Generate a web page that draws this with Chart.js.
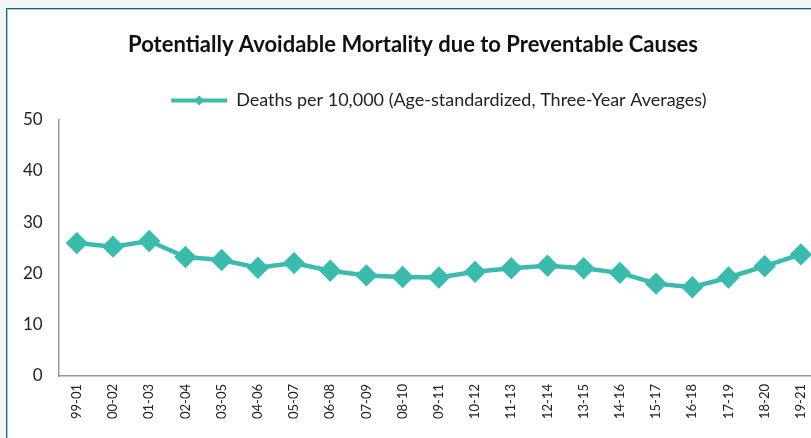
<!DOCTYPE html>
<html lang="en">
<head>
<meta charset="UTF-8">
<title>Potentially Avoidable Mortality</title>
<script src="https://cdn.jsdelivr.net/npm/chart.js"></script>
<style>
    body {
        margin: 0;
        background: #f4f4f4;
        overflow: hidden;
        width: 811px;
        height: 438px;
        position: relative;
    }

    .frame {
        position: absolute;
        left: 6px;
        top: 8px;
        width: 840px;
        height: 460px;
        background: #fff;
        border: 1px solid #1f5e8c;
        box-shadow: inset 0 0 0 1px #8fd6d0;
    }

    .chart-box {
        position: absolute;
        left: 7px;
        top: 10px;
        width: 812px;
        height: 417px;
    }
</style>
</head>
<body>
<div class="frame"></div>
<div class="chart-box">
    <canvas id="mortalityChart"></canvas>
</div>

<script>
    // periodos de tres años
    const periods = ['99-01', '00-02', '01-03', '02-04', '03-05', '04-06', '05-07', '06-08', '07-09', '08-10',
        '09-11', '10-12', '11-13', '12-14', '13-15', '14-16', '15-17', '16-18', '17-19', '18-20', '19-21'];

    // muertes por 10,000
    const deaths = [25.9, 25.2, 26.3, 23.2, 22.6, 21.1, 22.0, 20.5, 19.6, 19.3,
        19.2, 20.3, 21.0, 21.5, 21.0, 20.1, 18.0, 17.3, 19.2, 21.4, 23.7];

    const yTicks = [0, 10, 20, 30, 40, 50];

    const teal = '#3bbbae';
    const fontFamily = 'Lato, "Open Sans", sans-serif';

    // rombo pequeño en el centro de la muestra de la leyenda
    const legendDiamond = {
        id: 'legendDiamond',
        afterDraw(chart) {
            const legend = chart.legend;
            if (!legend || !legend.legendHitBoxes) return;
            const ctx = chart.ctx;
            legend.legendHitBoxes.forEach(function (box) {
                const cx = box.left + 28;
                const cy = box.top + box.height / 2;
                ctx.save();
                ctx.fillStyle = teal;
                ctx.beginPath();
                ctx.moveTo(cx, cy - 5);
                ctx.lineTo(cx + 5, cy);
                ctx.lineTo(cx, cy + 5);
                ctx.lineTo(cx - 5, cy);
                ctx.closePath();
                ctx.fill();
                ctx.restore();
            });
        }
    };

    new Chart(document.getElementById('mortalityChart'), {
        type: 'line',
        data: {
            labels: periods,
            datasets: [{
                label: 'Deaths per 10,000 (Age-standardized, Three-Year Averages)',
                data: deaths,
                borderColor: teal,
                backgroundColor: teal,
                borderWidth: 4.5,
                pointStyle: 'rectRot',
                pointRadius: 8,
                pointBackgroundColor: teal,
                pointBorderColor: teal,
                tension: 0,
                clip: false
            }]
        },
        options: {
            responsive: true,
            maintainAspectRatio: false,
            animation: false,
            // el gráfico original queda cortado a la derecha
            layout: { autoPadding: false, padding: { left: 0, right: 0, top: 0, bottom: 0 } },
            plugins: {
                title: {
                    display: true,
                    text: 'Potentially Avoidable Mortality due to Preventable Causes',
                    color: '#111',
                    font: { family: fontFamily, size: 22, weight: 'bold' },
                    padding: { top: 22, bottom: 23 }
                },
                legend: {
                    display: true,
                    fullSize: false,
                    labels: {
                        color: '#222',
                        font: { family: fontFamily, size: 18 },
                        boxWidth: 56,
                        boxHeight: 4,
                        padding: 10,
                        generateLabels(chart) {
                            return chart.data.datasets.map((ds, i) => ({
                                text: ds.label,
                                fillStyle: teal,
                                strokeStyle: teal,
                                lineWidth: 0,
                                fontColor: '#222',
                                datasetIndex: i
                            }));
                        }
                    }
                },
                tooltip: { enabled: false }
            },
            scales: {
                x: {
                    offset: true,
                    afterFit(axis) {
                        axis.paddingRight = 0;
                    },
                    grid: { display: false, drawTicks: false },
                    border: { display: true, color: '#999', width: 1.5 },
                    ticks: {
                        color: '#222',
                        font: { family: fontFamily, size: 13 },
                        maxRotation: 90,
                        minRotation: 90,
                        autoSkip: false,
                        padding: 8
                    }
                },
                y: {
                    min: 0,
                    max: 50,
                    afterBuildTicks(axis) {
                        axis.ticks = yTicks.map(v => ({ value: v }));
                    },
                    grid: { display: false, drawTicks: false },
                    border: { display: true, color: '#999', width: 1.5 },
                    ticks: {
                        color: '#222',
                        font: { family: fontFamily, size: 17 },
                        padding: 16
                    }
                }
            }
        },
        plugins: [legendDiamond]
    });
</script>
</body>
</html>
